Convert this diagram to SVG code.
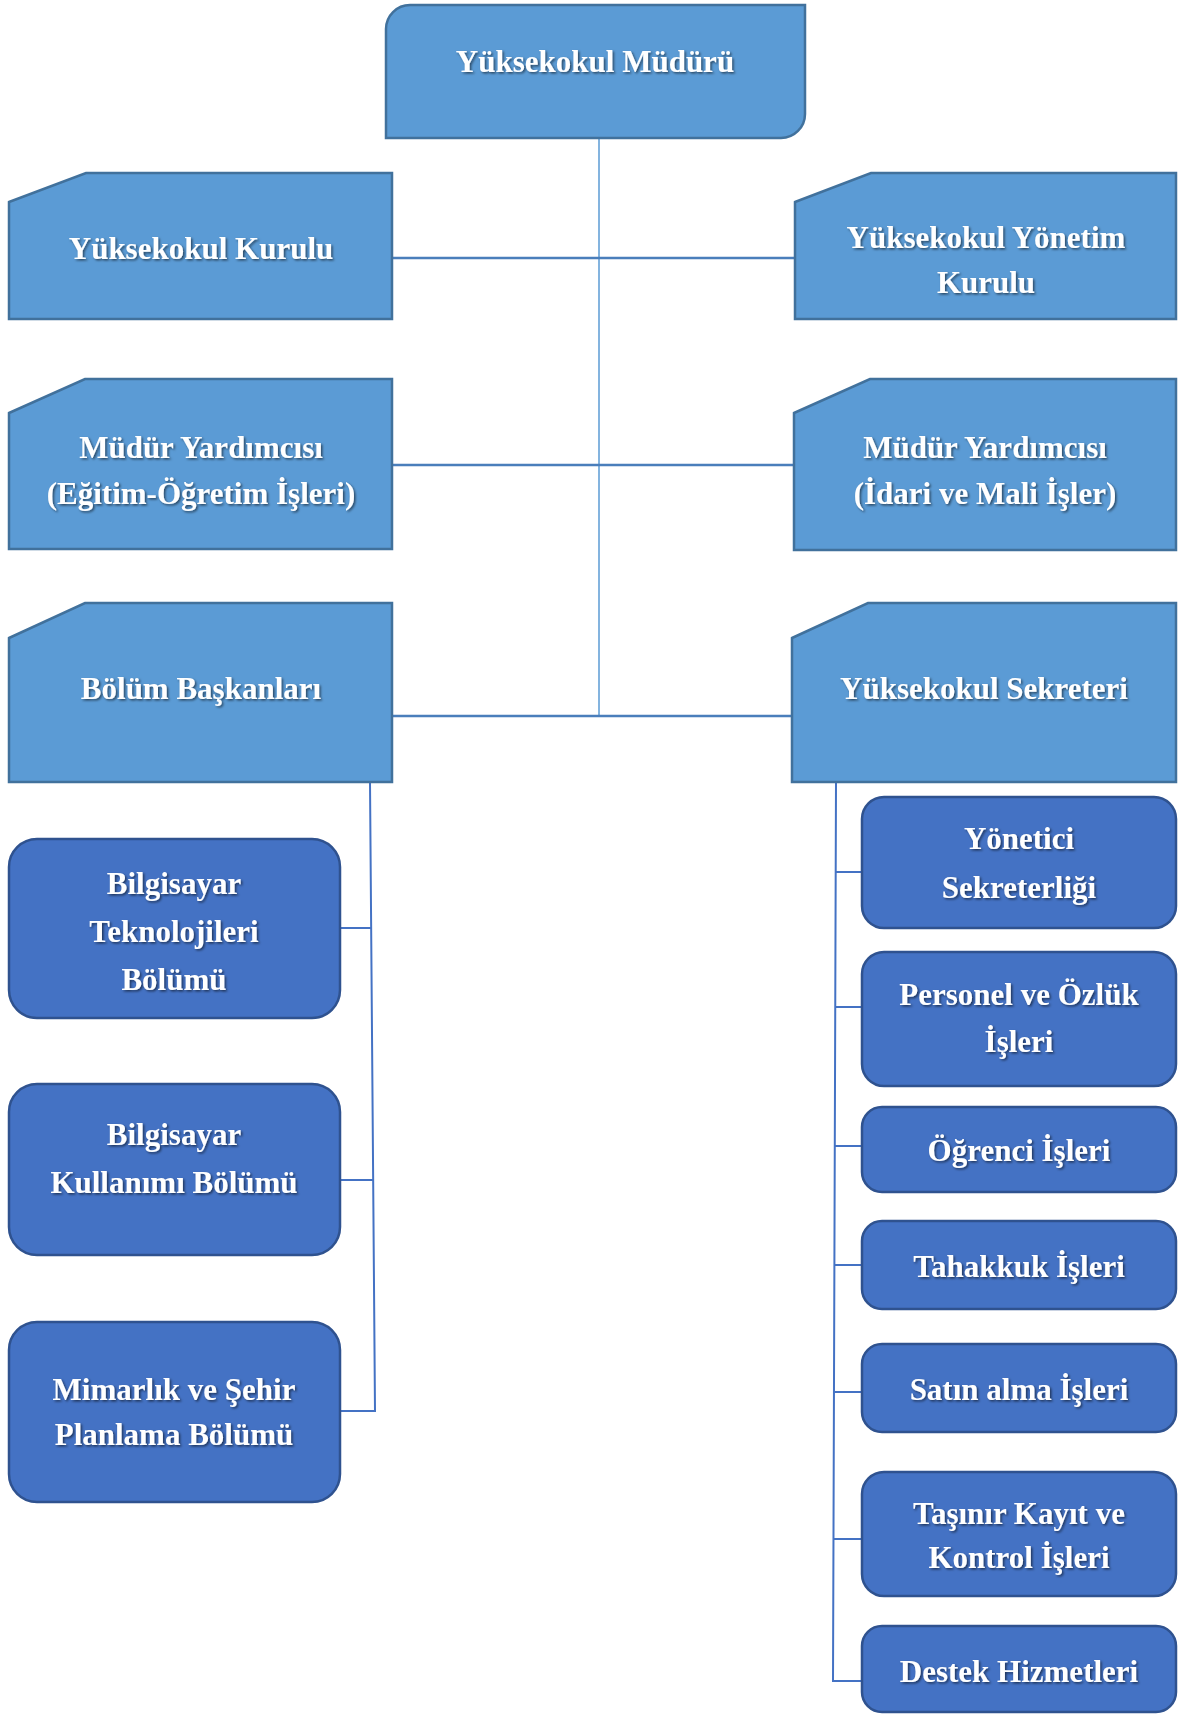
<svg xmlns="http://www.w3.org/2000/svg" width="1178" height="1716" viewBox="0 0 1178 1716">
<defs>
<filter id="ts" x="-10%" y="-30%" width="120%" height="160%">
<feDropShadow dx="1.5" dy="1.5" stdDeviation="1.3" flood-color="#000" flood-opacity="0.55"/>
</filter>
</defs>
<style>
.up{fill:#5B9BD5;stroke:#41719C;stroke-width:2.5}
.lo{fill:#4472C4;stroke:#2F528F;stroke-width:2.5}
.t{font-family:"Liberation Serif","DejaVu Serif",serif;font-weight:bold;font-size:31px;fill:#fff;text-anchor:middle;filter:url(#ts)}
.cv{stroke:#5B9BD5;stroke-width:1.5;fill:none}
.ch{stroke:#4A7EBB;stroke-width:2.5;fill:none}
.cl{stroke:#4472C4;stroke-width:2;fill:none}
</style>
<g id="connectors">
<line class="cv" x1="599" y1="138" x2="599" y2="716"/>
<line class="ch" x1="392" y1="258" x2="795" y2="258"/>
<line class="ch" x1="392" y1="465" x2="794" y2="465"/>
<line class="ch" x1="392" y1="716" x2="792" y2="716"/>
<polyline class="cl" points="370,782 375,1411 340,1411"/>
<line class="cl" x1="340" y1="928" x2="371" y2="928"/>
<line class="cl" x1="340" y1="1180" x2="373" y2="1180"/>
<polyline class="cl" points="836,782 833,1681 862,1681"/>
<line class="cl" x1="836" y1="872" x2="862" y2="872"/>
<line class="cl" x1="835" y1="1007" x2="862" y2="1007"/>
<line class="cl" x1="835" y1="1146" x2="862" y2="1146"/>
<line class="cl" x1="835" y1="1265" x2="862" y2="1265"/>
<line class="cl" x1="834" y1="1392" x2="862" y2="1392"/>
<line class="cl" x1="834" y1="1539" x2="862" y2="1539"/>
</g>
<g id="mudur">
<path class="up" d="M386,138 V29 A24,24 0 0 1 410,5 H805 V114 A24,24 0 0 1 781,138 Z"/>
<text class="t" x="595" y="72">Yüksekokul Müdürü</text>
</g>
<g id="kurul">
<polygon class="up" points="9,202 86,173 392,173 392,319 9,319"/>
<text class="t" x="201" y="259">Yüksekokul Kurulu</text>
</g>
<g id="yonetim-kurulu">
<polygon class="up" points="795,202 871,173 1176,173 1176,319 795,319"/>
<text class="t" x="986" y="248">Yüksekokul Yönetim</text>
<text class="t" x="986" y="293">Kurulu</text>
</g>
<g id="myard-egitim">
<polygon class="up" points="9,413 85,379 392,379 392,549 9,549"/>
<text class="t" x="201" y="458">Müdür Yardımcısı</text>
<text class="t" x="201" y="504">(Eğitim-Öğretim İşleri)</text>
</g>
<g id="myard-idari">
<polygon class="up" points="794,413 870,379 1176,379 1176,550 794,550"/>
<text class="t" x="985" y="458">Müdür Yardımcısı</text>
<text class="t" x="985" y="504">(İdari ve Mali İşler)</text>
</g>
<g id="bolum-baskanlari">
<polygon class="up" points="9,638 85,603 392,603 392,782 9,782"/>
<text class="t" x="201" y="699">Bölüm Başkanları</text>
</g>
<g id="sekreter">
<polygon class="up" points="792,638 868,603 1176,603 1176,782 792,782"/>
<text class="t" x="984" y="699">Yüksekokul Sekreteri</text>
</g>
<g id="bt">
<rect class="lo" x="9" y="839" width="331" height="179" rx="28"/>
<text class="t" x="174" y="894">Bilgisayar</text>
<text class="t" x="174" y="942">Teknolojileri</text>
<text class="t" x="174" y="990">Bölümü</text>
</g>
<g id="bk">
<rect class="lo" x="9" y="1084" width="331" height="171" rx="28"/>
<text class="t" x="174" y="1145">Bilgisayar</text>
<text class="t" x="174" y="1193">Kullanımı Bölümü</text>
</g>
<g id="mimarlik">
<rect class="lo" x="9" y="1322" width="331" height="180" rx="28"/>
<text class="t" x="174" y="1400">Mimarlık ve Şehir</text>
<text class="t" x="174" y="1445">Planlama Bölümü</text>
</g>
<g id="yonetici">
<rect class="lo" x="862" y="797" width="314" height="131" rx="22"/>
<text class="t" x="1019" y="849">Yönetici</text>
<text class="t" x="1019" y="898">Sekreterliği</text>
</g>
<g id="personel">
<rect class="lo" x="862" y="952" width="314" height="134" rx="22"/>
<text class="t" x="1019" y="1005">Personel ve Özlük</text>
<text class="t" x="1019" y="1052">İşleri</text>
</g>
<g id="ogrenci">
<rect class="lo" x="862" y="1107" width="314" height="85" rx="20"/>
<text class="t" x="1019" y="1161">Öğrenci İşleri</text>
</g>
<g id="tahakkuk">
<rect class="lo" x="862" y="1221" width="314" height="88" rx="20"/>
<text class="t" x="1019" y="1277">Tahakkuk İşleri</text>
</g>
<g id="satinalma">
<rect class="lo" x="862" y="1344" width="314" height="88" rx="20"/>
<text class="t" x="1019" y="1400">Satın alma İşleri</text>
</g>
<g id="tasinir">
<rect class="lo" x="862" y="1472" width="314" height="124" rx="22"/>
<text class="t" x="1019" y="1524">Taşınır Kayıt ve</text>
<text class="t" x="1019" y="1568">Kontrol İşleri</text>
</g>
<g id="destek">
<rect class="lo" x="862" y="1626" width="314" height="86" rx="20"/>
<text class="t" x="1019" y="1682">Destek Hizmetleri</text>
</g>
</svg>
